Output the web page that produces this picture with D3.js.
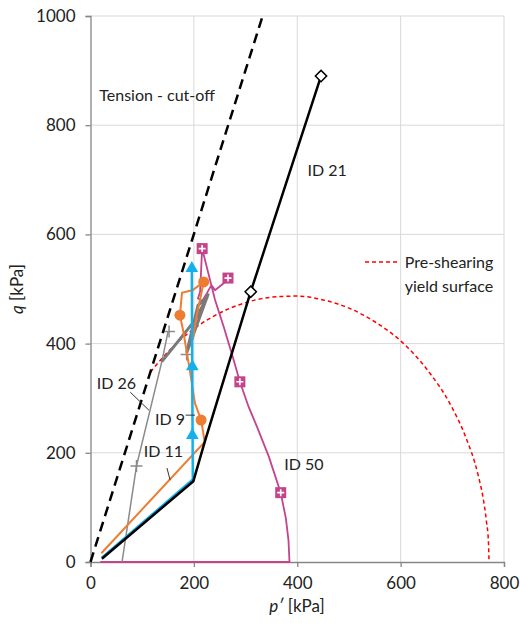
<!DOCTYPE html>
<html>
<head>
<meta charset="utf-8">
<script src="https://cdn.jsdelivr.net/npm/d3@7"></script>
<style>
  body { margin: 0; background: #fff; }
  svg text { font-family: Lato, "Open Sans", sans-serif; fill: #222; }
</style>
</head>
<body>
<div id="chart"></div>
<script>
// tick values
const xTicks = [0, 200, 400, 600, 800];
const yTicks = [0, 200, 400, 600, 800, 1000];

// stress paths [p', q] in kPa
const id21 = [[22, 6], [199, 148], [221, 220], [310, 495], [446, 890]];
const id21Marks = [[310, 495], [446, 890]];

const id9 = [[22, 8], [198, 151], [197, 300], [196, 538]];
const id9Marks = [[197, 232], [197, 358], [196, 538]];

const id11 = [[21, 16], [221, 220], [214, 260], [202, 291], [192, 352], [179, 425],
  [173, 452], [177, 493], [198, 498], [219, 513], [205, 449], [198, 407]];
const id11Marks = [[214, 260], [173, 452], [219, 513]];

const id26 = [[61, 0], [89, 176], [138, 367], [150, 422]];
const id26Load = [[138, 367], [200, 440], [226, 485], [208, 470], [186, 383], [228, 492]];
const id26Marks = [[89, 176], [152, 422], [186, 380]];

const id50 = [[19, 0], [385, 0], [383, 40], [378, 80], [368, 127], [345, 193], [322, 248],
  [306, 284], [289, 330], [276, 373], [258, 430], [241, 480], [216, 574], [212, 495],
  [208, 483], [216, 478], [225, 492], [234, 507], [241, 498], [257, 510], [266, 520]];
const id50Marks = [[368, 127], [289, 330], [216, 574], [266, 520]];

const tension = [[0, 0], [333, 1000]];

const yieldSurface = [[116, 348], [150, 385], [200, 427], [250, 456], [300, 475], [350, 485],
  [400, 487], [450, 480], [500, 465], [550, 440], [600, 405], [650, 354], [700, 282],
  [725, 231], [750, 159], [760, 115], [766, 75], [770, 35], [771, 0]];

const width = 520, height = 630;
const svg = d3.select('#chart').append('svg')
  .attr('width', width).attr('height', height);

const x = d3.scaleLinear().domain([0, 800]).range([90.5, 504]);
const y = d3.scaleLinear().domain([0, 1000]).range([562, 16]);

// grid
svg.append('g').selectAll('line').data(yTicks.slice(1)).enter().append('line')
  .attr('x1', x(0)).attr('x2', x(800))
  .attr('y1', d => y(d)).attr('y2', d => y(d))
  .attr('stroke', '#d9d9d9').attr('stroke-width', 1);
svg.append('g').selectAll('line').data(xTicks.slice(1)).enter().append('line')
  .attr('y1', y(0)).attr('y2', y(1000))
  .attr('x1', d => x(d)).attr('x2', d => x(d))
  .attr('stroke', '#d9d9d9').attr('stroke-width', 1);

// axes
const xAxis = svg.append('g')
  .attr('transform', `translate(0,${y(0)})`)
  .call(d3.axisBottom(x).tickValues(xTicks).tickFormat(d3.format('d')).tickSize(5).tickPadding(10));
const yAxis = svg.append('g')
  .attr('transform', `translate(${x(0)},0)`)
  .call(d3.axisLeft(y).tickValues(yTicks).tickFormat(d3.format('d')).tickSize(5).tickPadding(10));
[xAxis, yAxis].forEach(a => {
  a.select('.domain').attr('stroke', '#868686').attr('stroke-width', 1.3);
  a.selectAll('.tick line').attr('stroke', '#868686').attr('stroke-width', 1.3);
  a.selectAll('.tick text').style('font-size', '17px').attr('fill', '#222');
});

const line = d3.line().x(d => x(d[0])).y(d => y(d[1]));
const plot = svg.append('g');

// pre-shearing yield surface
plot.append('path').datum(yieldSurface).attr('d', d3.line().x(d => x(d[0])).y(d => y(d[1])).curve(d3.curveMonotoneX))
  .attr('fill', 'none').attr('stroke', '#ff0000').attr('stroke-width', 1.5)
  .attr('stroke-dasharray', '4,3');

// ID 50
plot.append('path').datum(id50).attr('d', line)
  .attr('fill', 'none').attr('stroke', '#c4438b').attr('stroke-width', 1.8);

// ID 26
plot.append('path').datum(id26).attr('d', line)
  .attr('fill', 'none').attr('stroke', '#8a8a8a').attr('stroke-width', 1.5);
plot.append('path').datum(id26Load).attr('d', line)
  .attr('fill', 'none').attr('stroke', '#7a7a7a').attr('stroke-width', 3);
plot.selectAll('.m26').data(id26Marks).enter().append('path')
  .attr('transform', d => `translate(${x(d[0])},${y(d[1])})`)
  .attr('d', 'M-6,0H6M0,-6V6')
  .attr('stroke', '#8a8a8a').attr('stroke-width', 1.5);

// ID 11
plot.append('path').datum(id11).attr('d', line)
  .attr('fill', 'none').attr('stroke', '#ed7d31').attr('stroke-width', 2);
plot.selectAll('.m11').data(id11Marks).enter().append('circle')
  .attr('cx', d => x(d[0])).attr('cy', d => y(d[1])).attr('r', 5.5)
  .attr('fill', '#ed7d31');

// ID 9
plot.append('path').datum(id9).attr('d', line)
  .attr('fill', 'none').attr('stroke', '#15b0ec').attr('stroke-width', 2.5);
plot.selectAll('.m9').data(id9Marks).enter().append('path')
  .attr('transform', d => `translate(${x(d[0])},${y(d[1])})`)
  .attr('d', d3.symbol(d3.symbolTriangle, 70))
  .attr('fill', '#15b0ec');

// ID 21
plot.append('path').datum(id21).attr('d', line)
  .attr('fill', 'none').attr('stroke', '#000').attr('stroke-width', 2.5);
plot.selectAll('.m21').data(id21Marks).enter().append('path')
  .attr('transform', d => `translate(${x(d[0])},${y(d[1])}) rotate(45)`)
  .attr('d', 'M-4,-4H4V4H-4Z')
  .attr('fill', '#fff').attr('stroke', '#000').attr('stroke-width', 1.5);

// ID 50 markers on top
const m50 = plot.selectAll('.m50').data(id50Marks).enter().append('g')
  .attr('transform', d => `translate(${x(d[0])},${y(d[1])})`);
m50.append('rect').attr('x', -5.5).attr('y', -5.5).attr('width', 11).attr('height', 11)
  .attr('fill', '#c4438b');
m50.append('path').attr('d', 'M-3.5,0H3.5M0,-3.5V3.5')
  .attr('stroke', '#fff').attr('stroke-width', 1.6);

// tension cut-off
plot.append('path').datum(tension).attr('d', line)
  .attr('fill', 'none').attr('stroke', '#000').attr('stroke-width', 2.5)
  .attr('stroke-dasharray', '10,6');

// labels
const label = (t, px, py, anchor) => svg.append('text')
  .attr('x', x(px)).attr('y', y(py)).attr('text-anchor', anchor || 'start')
  .attr('dominant-baseline', 'middle').style('font-size', '16px').text(t);
label('Tension - cut-off', 17, 851);
label('ID 21', 420, 715);
label('ID 50', 375, 175);
label('ID 26', 12, 325);
label('ID 9', 125, 258);
label('ID 11', 103, 199);
label('Pre-shearing', 608, 546);
label('yield surface', 608, 502);

// leader lines
const leader = (a, b) => svg.append('line')
  .attr('x1', x(a[0])).attr('y1', y(a[1])).attr('x2', x(b[0])).attr('y2', y(b[1]))
  .attr('stroke', '#333').attr('stroke-width', 1);
leader([77, 311], [113, 278]);
leader([184, 269], [202, 269]);
leader([148, 172], [154, 150]);

// legend sample
svg.append('line')
  .attr('x1', 365).attr('x2', 398).attr('y1', 262).attr('y2', 262)
  .attr('stroke', '#ff0000').attr('stroke-width', 1.5).attr('stroke-dasharray', '4,3');

// axis titles
const xt = svg.append('text').attr('x', 297).attr('y', 612).attr('text-anchor', 'middle')
  .style('font-size', '17px');
xt.append('tspan').style('font-style', 'italic').text('p′');
xt.append('tspan').text(' [kPa]');
const yt = svg.append('text').attr('transform', 'translate(23,289) rotate(-90)')
  .attr('text-anchor', 'middle').style('font-size', '17px');
yt.append('tspan').style('font-style', 'italic').text('q');
yt.append('tspan').text(' [kPa]');
</script>
</body>
</html>
